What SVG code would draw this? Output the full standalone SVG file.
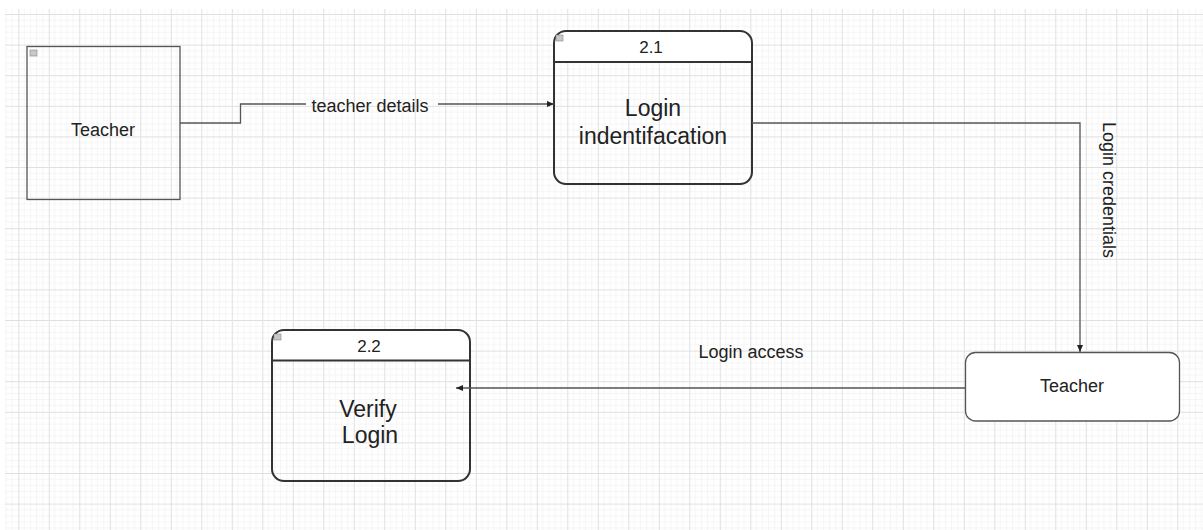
<svg xmlns="http://www.w3.org/2000/svg" width="1203" height="530" viewBox="0 0 1203 530">
<style>
text{font-family:"Liberation Sans",Arial,sans-serif;fill:#222;text-anchor:middle}
.lbl{font-size:18px}
.num{font-size:17px}
.big{font-size:23px}
.conn{fill:none;stroke:#555;stroke-width:1.3}
.proc{fill:none;stroke:#333;stroke-width:2}
.icon{fill:#c8c8c8;stroke:#888;stroke-width:0.6}
</style>
<defs>
<pattern id="g" patternUnits="userSpaceOnUse" x="18.3" y="14" width="30.5" height="30.6">
<path d="M6.1 0V30.6M12.2 0V30.6M18.3 0V30.6M24.4 0V30.6M0 6.12H30.5M0 12.24H30.5M0 18.36H30.5M0 24.48H30.5" stroke="#f5f5f5" stroke-width="1"/>
<path d="M0.5 0V30.6M0 0.5H30.5" stroke="#e0e0e0" stroke-width="1"/>
</pattern>
<marker id="ah" markerWidth="8" markerHeight="8" refX="7" refY="4" orient="auto" markerUnits="userSpaceOnUse">
<path d="M0,1 L7,4 L0,7 Z" fill="#222"/>
</marker>
</defs>
<rect width="1203" height="530" fill="#fff"/>
<rect x="5" y="9" width="1198" height="521" fill="url(#g)"/>
<g id="teacher1">
<rect x="27" y="46.5" width="153" height="153" fill="none" stroke="#555" stroke-width="1.3"/>
<rect class="icon" x="30" y="50" width="7" height="6"/>
<text class="lbl" x="103" y="136">Teacher</text>
</g>
<g id="p21">
<path d="M554 62V43A12 12 0 0 1 566 31H740A12 12 0 0 1 752 43V62Z" fill="#fff"/>
<rect class="proc" x="554" y="31" width="198" height="153" rx="12"/>
<line x1="554" y1="62" x2="752" y2="62" stroke="#333" stroke-width="2"/>
<rect class="icon" x="556" y="35" width="7" height="6"/>
<text class="num" x="651" y="53">2.1</text>
<text class="big" x="653" y="116">Login</text>
<text class="big" x="653" y="144">indentifacation</text>
</g>
<g id="p22">
<path d="M272 360.5V342A12 12 0 0 1 284 330H458A12 12 0 0 1 470 342V360.5Z" fill="#fff"/>
<rect class="proc" x="272" y="330" width="198" height="151" rx="12"/>
<line x1="272" y1="360.5" x2="470" y2="360.5" stroke="#333" stroke-width="2"/>
<rect class="icon" x="274" y="334" width="7" height="6"/>
<text class="num" x="369" y="352">2.2</text>
<text class="big" x="368" y="417">Verify</text>
<text class="big" x="370" y="443">Login</text>
</g>
<g id="teacher2">
<rect x="965.5" y="352.5" width="214" height="68.5" rx="10" fill="#fff" stroke="#555" stroke-width="1.3"/>
<text class="lbl" x="1072" y="392">Teacher</text>
</g>
<g id="connectors">
<path class="conn" d="M180 123H240.5V104H306"/>
<path class="conn" d="M438 104H554" marker-end="url(#ah)"/>
<text class="lbl" x="370" y="112">teacher details</text>
<path class="conn" d="M752 123H1080V352" marker-end="url(#ah)"/>
<text class="lbl" transform="translate(1103,190) rotate(90)">Login credentials</text>
<path class="conn" d="M965 388H456" marker-end="url(#ah)"/>
<text class="lbl" x="751" y="358">Login access</text>
</g>
</svg>
